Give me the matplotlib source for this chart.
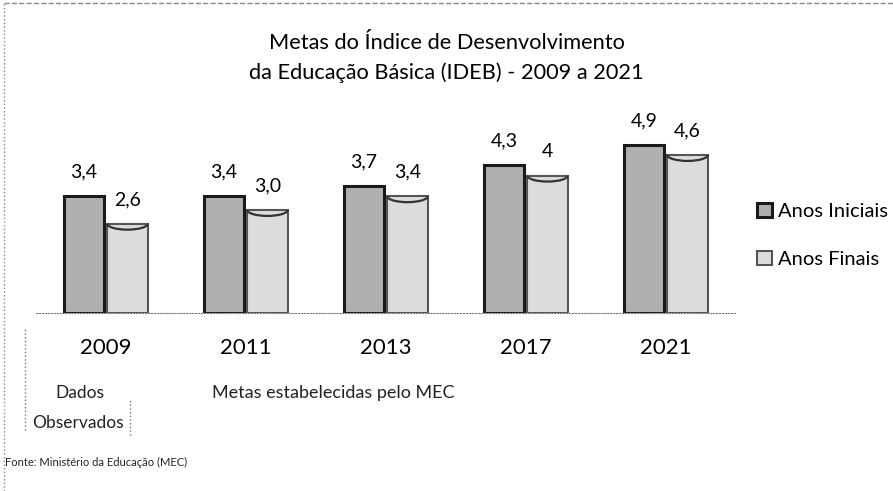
import numpy as np
import matplotlib.pyplot as plt
from matplotlib.patches import Arc

anos = ['2009', '2011', '2013', '2017', '2021']
iniciais = [3.4, 3.4, 3.7, 4.3, 4.9]
finais = [2.6, 3.0, 3.4, 4.0, 4.6]
rot_ini = ['3,4', '3,4', '3,7', '4,3', '4,9']
rot_fin = ['2,6', '3,0', '3,4', '4', '4,6']

plt.rcParams['font.family'] = ['Lato', 'DejaVu Sans']

fig = plt.figure(figsize=(8.93, 4.91), dpi=100)
ax = fig.add_axes([0.040, 0.3625, 0.784, 0.385])

x = np.arange(len(anos))
w = 0.29
b1 = ax.bar(x - w/2 - 0.01, iniciais, w, color='#b0b0b0', edgecolor='#1a1a1a', linewidth=2.2, label='Anos Iniciais')
b2 = ax.bar(x + w/2 + 0.01, finais, w, color='#dcdcdc', edgecolor='#555555', linewidth=1.5, label='Anos Finais')

# topo "cilíndrico" das barras de anos finais
for i in range(len(anos)):
    ax.add_patch(Arc((x[i] + w/2 + 0.01, finais[i]), w, 0.35, theta1=180, theta2=360,
                     color='#333333', lw=1.6))

for i in range(len(anos)):
    ax.text(x[i] - w/2 - 0.01, iniciais[i] + 0.45, rot_ini[i], ha='center', va='bottom', fontsize=14)
    ax.text(x[i] + w/2 + 0.01, finais[i] + 0.45, rot_fin[i], ha='center', va='bottom', fontsize=14)

ax.set_xlim(-0.5, len(anos) - 0.5)
ax.set_ylim(0, 5.5)
for s in ['top', 'right', 'left']:
    ax.spines[s].set_visible(False)
ax.spines['bottom'].set_linestyle(':')
ax.spines['bottom'].set_color('#777777')
ax.set_yticks([])
ax.set_xticks(x)
ax.set_xticklabels(anos, fontsize=16)
ax.tick_params(axis='x', length=0, pad=18)

leg = ax.legend(loc='center left', bbox_to_anchor=(1.005, 0.41), frameon=False, fontsize=14.5,
                handlelength=0.7, handleheight=0.7, handletextpad=0.3, labelspacing=1.5)

fig.text(0.5, 0.912, 'Metas do Índice de Desenvolvimento', ha='center', va='center', fontsize=15.7)
fig.text(0.5, 0.851, 'da Educação Básica (IDEB) - 2009 a 2021', ha='center', va='center', fontsize=15.7)

fig.text(0.089, 0.200, 'Dados', ha='center', va='center', fontsize=12.5, color='#222222')
fig.text(0.087, 0.139, 'Observados', ha='center', va='center', fontsize=12.5, color='#222222')
fig.text(0.373, 0.200, 'Metas estabelecidas pelo MEC', ha='center', va='center', fontsize=13, color='#222222')
fig.text(0.006, 0.059, 'Fonte: Ministério da Educação (MEC)', ha='left', va='center', fontsize=8, color='#222222')

# linhas pontilhadas de separação e borda
fig.add_artist(plt.Line2D([0.028, 0.028], [0.125, 0.33], color='#777777', lw=1, ls=':'))
fig.add_artist(plt.Line2D([0.146, 0.146], [0.115, 0.185], color='#777777', lw=1, ls=':'))
fig.add_artist(plt.Line2D([0.004, 0.004], [0.0, 0.995], color='#888888', lw=1, ls=':'))
fig.add_artist(plt.Line2D([0.004, 1.0], [0.993, 0.993], color='#888888', lw=1, ls='--'))

fig.savefig('out.png', dpi=100)
